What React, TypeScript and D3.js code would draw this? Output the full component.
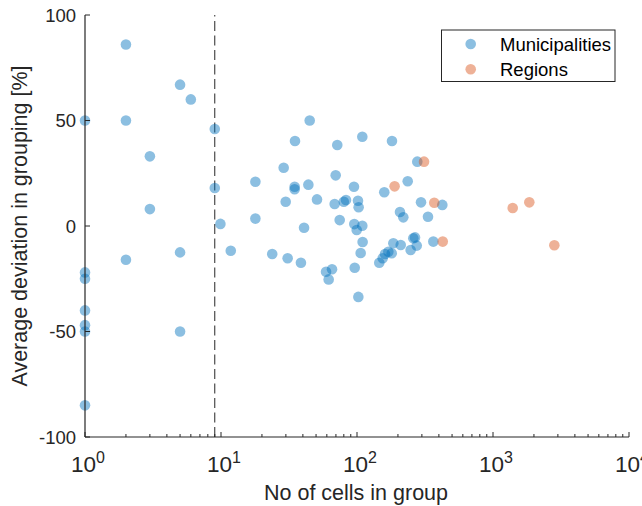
import React from "react";
import * as d3 from "d3";

// Municipalities: number of cells in group (x) and average deviation [%] (y)
const muniCells: number[] = [
  1, 1, 1, 1, 1, 1, 1,
  2, 2, 2,
  3, 3,
  5, 5, 5,
  6,
  9, 9,
  9.9, 11.8,
  17.9, 17.9,
  23.8,
  28.9, 29.9, 30.9,
  35, 34.8, 34.8,
  38.7, 40.8,
  43.9, 44.9,
  50.8,
  59.2, 61.9, 65.5,
  68.5, 69.7, 71.6, 74.6,
  80, 83,
  95, 95.5, 96.2, 99.5,
  101.7, 102.8, 102.3, 106.4, 109.4, 109.4, 110,
  145.8, 154.5, 158.7, 160.7, 170, 180, 180.8, 185,
  207, 209.6, 219, 236, 248, 259.4, 267, 275, 277.5, 295.6, 332.6, 364, 424,
];
const muniDeviation: number[] = [
  50, -22, -25, -40, -47, -50, -85,
  86, 50, -16,
  33, 8,
  67, -12.5, -50,
  60,
  46, 18,
  1, -11.7,
  21, 3.5,
  -13.3,
  27.6, 11.5, -15.3,
  40.3, 18.6, 17.4,
  -17.4, -0.8,
  19.6, 50,
  12.6,
  -21.7, -25.3, -20.5,
  10.4, 24, 38.4, 2.8,
  11.5, 12.3,
  18.6, 0.9, -19.8, -1.9,
  12, 8.9, -33.6, -12.8, 42.3, 0.1, -7.6,
  -17.4, -15.3, 16, -13.3, -12.2, -12.9, 40.3, -8.2,
  6.6, -9, 4.1, 21.2, -11.4, -5.8, -5.4, -9.3, 30.5, 11.2, 4.4, -7.4, 10,
];

// Regions
const regionCells: number[] = [311, 189, 370, 427, 1396, 1849, 2825];
const regionDeviation: number[] = [30.5, 18.8, 11, -7.4, 8.5, 11.2, -9.1];

const yTicks: number[] = [-100, -50, 0, 50, 100];
const xDecades: number[] = [0, 1, 2, 3, 4];
const thresholdCells = 9;

const seriesNames: string[] = ["Municipalities", "Regions"];

const BLUE = "#0072BD";
const ORANGE = "#D95319";
const AXIS = "#262626";
const FONT = "'Liberation Sans', Arial, Helvetica, sans-serif";

export default function App() {
  const W = 642;
  const H = 506;
  const x = d3.scaleLog().domain([1, 1e4]).range([85, 629]);
  const y = d3.scaleLinear().domain([-100, 100]).range([437, 15]);
  const r = 5.3;

  const muni = muniCells.map((c, i) => ({ c, d: muniDeviation[i] }));
  const regs = regionCells.map((c, i) => ({ c, d: regionDeviation[i] }));

  const minorTicks: number[] = [];
  for (let e = 0; e < 4; e++) {
    for (let k = 2; k <= 9; k++) minorTicks.push(k * Math.pow(10, e));
  }

  const x0 = x.range()[0];
  const y0 = y.range()[0];

  return (
    <svg
      width={W}
      height={H}
      style={{ position: "absolute", left: 0, top: 0, background: "#fff" }}
      fontFamily={FONT}
    >
      <rect x={0} y={0} width={W} height={H} fill="#fff" />

      {/* threshold dashed line */}
      <line
        x1={x(thresholdCells)}
        x2={x(thresholdCells)}
        y1={y(-100)}
        y2={y(100)}
        stroke={AXIS}
        strokeWidth={1}
        strokeDasharray="10 4.5"
      />

      {/* points */}
      {muni.map((p, i) => (
        <circle key={"m" + i} cx={x(p.c)} cy={y(p.d)} r={r} fill={BLUE} fillOpacity={0.45} />
      ))}
      {regs.map((p, i) => (
        <circle key={"r" + i} cx={x(p.c)} cy={y(p.d)} r={r} fill={ORANGE} fillOpacity={0.45} />
      ))}

      {/* axes */}
      <line x1={x0} x2={x0} y1={y(100)} y2={y0} stroke={AXIS} strokeWidth={1.2} />
      <line x1={x0} x2={x.range()[1]} y1={y0} y2={y0} stroke={AXIS} strokeWidth={1.2} />

      {yTicks.map((t) => (
        <g key={"yt" + t}>
          <line x1={x0} x2={x0 + 5} y1={y(t)} y2={y(t)} stroke={AXIS} strokeWidth={1} />
          <text
            x={x0 - 9}
            y={y(t)}
            textAnchor="end"
            dominantBaseline="central"
            fontSize={18.5}
            fill={AXIS}
          >
            {t}
          </text>
        </g>
      ))}

      {minorTicks.map((t) => (
        <line key={"mx" + t} x1={x(t)} x2={x(t)} y1={y0} y2={y0 - 3} stroke={AXIS} strokeWidth={1} />
      ))}
      {xDecades.map((e) => {
        const v = Math.pow(10, e);
        return (
          <g key={"xt" + e}>
            <line x1={x(v)} x2={x(v)} y1={y0} y2={y0 - 5} stroke={AXIS} strokeWidth={1} />
            <text x={x(v) + 3} y={471.5} textAnchor="middle" fill={AXIS}>
              <tspan fontSize={22.5}>10</tspan>
              <tspan fontSize={16} dy={-8.5}>
                {e}
              </tspan>
            </text>
          </g>
        );
      })}

      {/* axis labels */}
      <text x={356} y={500} textAnchor="middle" fontSize={21.5} fill={AXIS}>
        No of cells in group
      </text>
      <text
        transform={`translate(27, ${y(0)}) rotate(-90)`}
        textAnchor="middle"
        fontSize={21.5}
        fill={AXIS}
      >
        Average deviation in grouping [%]
      </text>

      {/* legend */}
      <rect x={441.5} y={30} width={173.5} height={51.5} fill="#fff" stroke={AXIS} strokeWidth={1} />
      {seriesNames.map((name, i) => (
        <g key={name}>
          <circle cx={470.7} cy={44 + i * 25.3} r={r} fill={i === 0 ? BLUE : ORANGE} fillOpacity={0.45} />
          <text x={500} y={44 + i * 25.3} dominantBaseline="central" fontSize={18.5} fill="#000">
            {name}
          </text>
        </g>
      ))}
    </svg>
  );
}
